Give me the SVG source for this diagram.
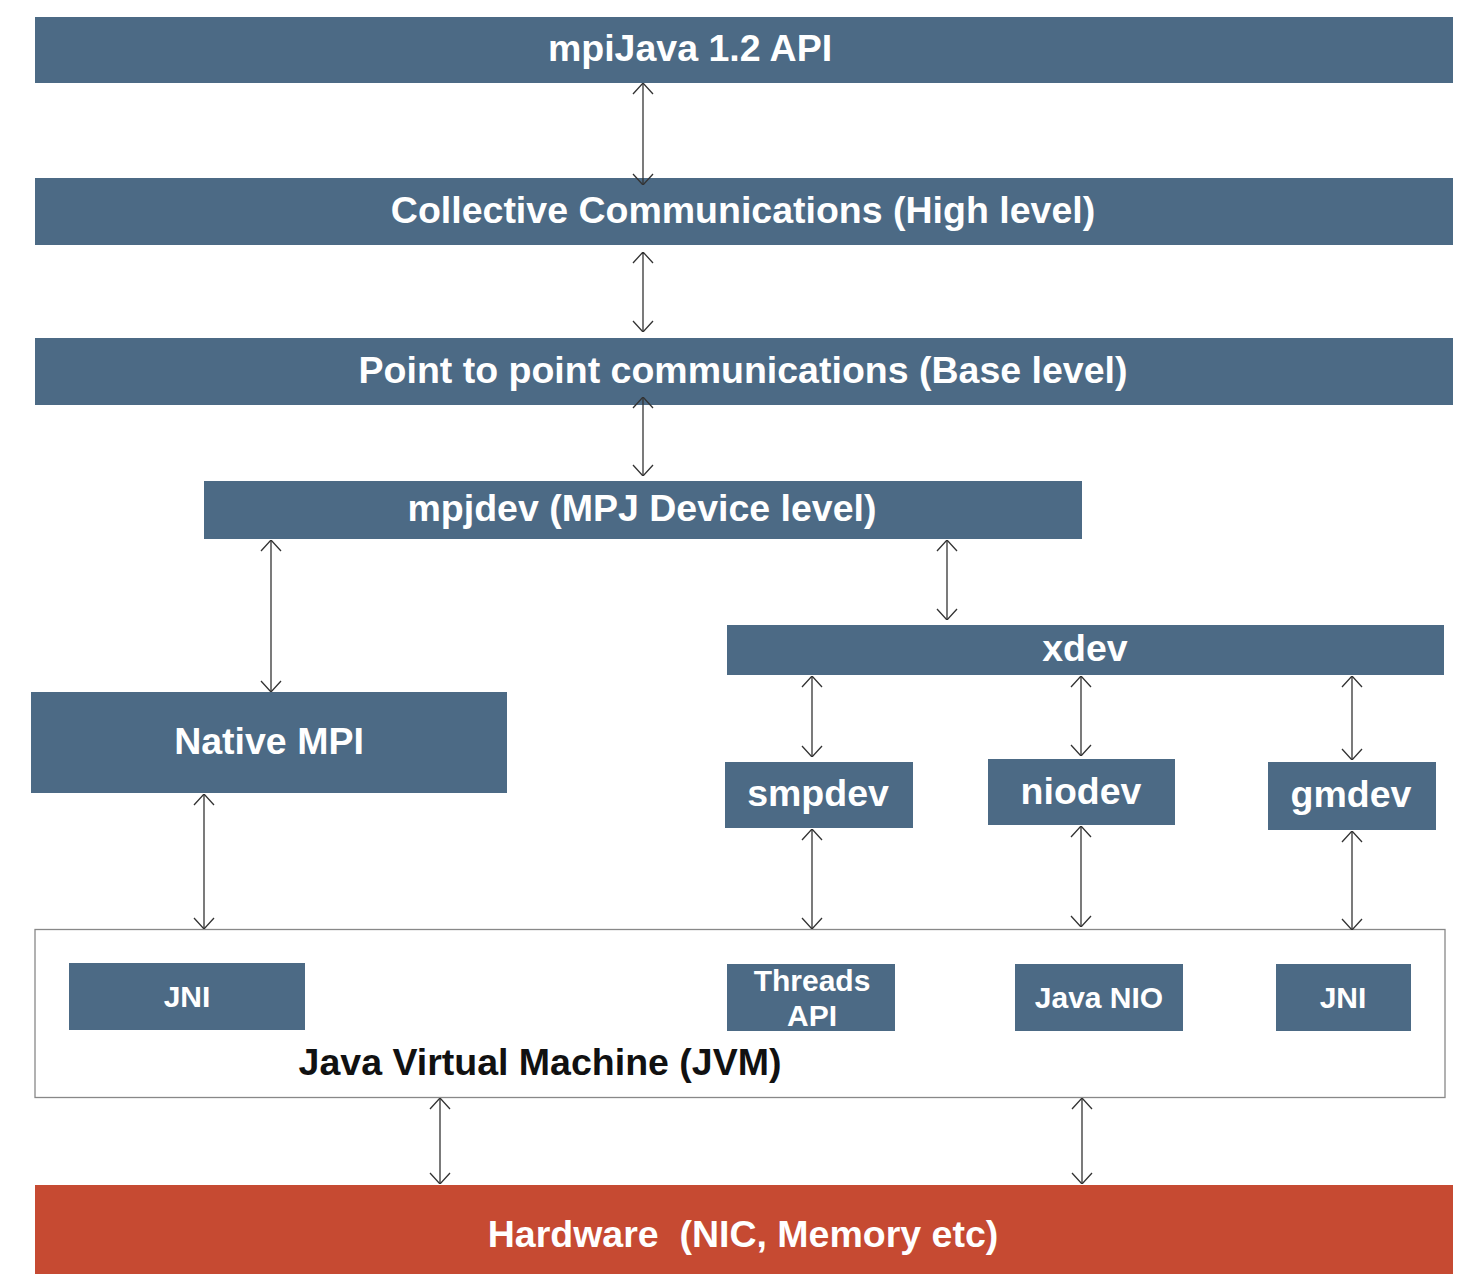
<svg xmlns="http://www.w3.org/2000/svg" width="1462" height="1275" viewBox="0 0 1462 1275">
<style>
.b{fill:#4C6A85}
.t{font-family:"Liberation Sans",Arial,sans-serif;font-weight:bold;fill:#fff;text-anchor:middle;dominant-baseline:central}
.l{font-size:37.5px}
.m{font-size:30px}
.c{stroke:#333;stroke-width:1.3;fill:none;marker-start:url(#ah);marker-end:url(#ah)}
</style>
<defs>
<marker id="ah" viewBox="0 0 12 22" refX="12" refY="11" markerWidth="12" markerHeight="22" markerUnits="userSpaceOnUse" orient="auto-start-reverse">
<path d="M1,1 L12,11 L1,21" fill="none" stroke="#333" stroke-width="1.3"/>
</marker>
</defs>
<rect width="1462" height="1275" fill="#fff"/>
<g id="jvm"><rect x="35" y="929.5" width="1410" height="168" fill="#fff" stroke="#888" stroke-width="1.3"/>
<text class="t l" x="540" y="1062" style="fill:#111">Java Virtual Machine (JVM)</text></g>
<g id="mpijava"><rect class="b" x="35" y="17" width="1418" height="66"/><text class="t l" x="690" y="48">mpiJava 1.2 API</text></g>
<g id="collective"><rect class="b" x="35" y="178" width="1418" height="67"/><text class="t l" x="743" y="210">Collective Communications (High level)</text></g>
<g id="p2p"><rect class="b" x="35" y="338" width="1418" height="67"/><text class="t l" x="743" y="370">Point to point communications (Base level)</text></g>
<g id="mpjdev"><rect class="b" x="204" y="481" width="878" height="58"/><text class="t l" x="642" y="508">mpjdev (MPJ Device level)</text></g>
<g id="xdev"><rect class="b" x="727" y="625" width="717" height="50"/><text class="t l" x="1085" y="648">xdev</text></g>
<g id="nativempi"><rect class="b" x="31" y="692" width="476" height="101"/><text class="t l" x="269" y="741">Native MPI</text></g>
<g id="smpdev"><rect class="b" x="725" y="762" width="188" height="66"/><text class="t l" x="818" y="793">smpdev</text></g>
<g id="niodev"><rect class="b" x="988" y="759" width="187" height="66"/><text class="t l" x="1081" y="791">niodev</text></g>
<g id="gmdev"><rect class="b" x="1268" y="762" width="168" height="68"/><text class="t l" x="1351" y="794">gmdev</text></g>
<g id="jni1"><rect class="b" x="69" y="963" width="236" height="67"/><text class="t m" x="187" y="996">JNI</text></g>
<g id="threads"><rect class="b" x="727" y="964" width="168" height="67"/><text class="t m" x="812" y="980">Threads</text><text class="t m" x="812" y="1015">API</text></g>
<g id="javanio"><rect class="b" x="1015" y="964" width="168" height="67"/><text class="t m" x="1099" y="997">Java NIO</text></g>
<g id="jni2"><rect class="b" x="1276" y="964" width="135" height="67"/><text class="t m" x="1343" y="997">JNI</text></g>
<g id="hardware"><rect x="35" y="1185" width="1418" height="89" fill="#C64A32"/><text class="t l" x="743" y="1234" style="white-space:pre">Hardware  (NIC, Memory etc)</text></g>
<g id="connectors">
<line class="c" x1="643" y1="83" x2="643" y2="185"/>
<line class="c" x1="643" y1="252" x2="643" y2="332"/>
<line class="c" x1="643" y1="397" x2="643" y2="476"/>
<line class="c" x1="271" y1="540" x2="271" y2="692"/>
<line class="c" x1="947" y1="540" x2="947" y2="620"/>
<line class="c" x1="812" y1="676" x2="812" y2="757"/>
<line class="c" x1="1081" y1="676" x2="1081" y2="756"/>
<line class="c" x1="1352" y1="676" x2="1352" y2="760"/>
<line class="c" x1="204" y1="794" x2="204" y2="929"/>
<line class="c" x1="812" y1="829" x2="812" y2="929"/>
<line class="c" x1="1081" y1="826" x2="1081" y2="927"/>
<line class="c" x1="1352" y1="831" x2="1352" y2="930"/>
<line class="c" x1="440" y1="1098" x2="440" y2="1184"/>
<line class="c" x1="1082" y1="1098" x2="1082" y2="1184"/>
</g>
</svg>
